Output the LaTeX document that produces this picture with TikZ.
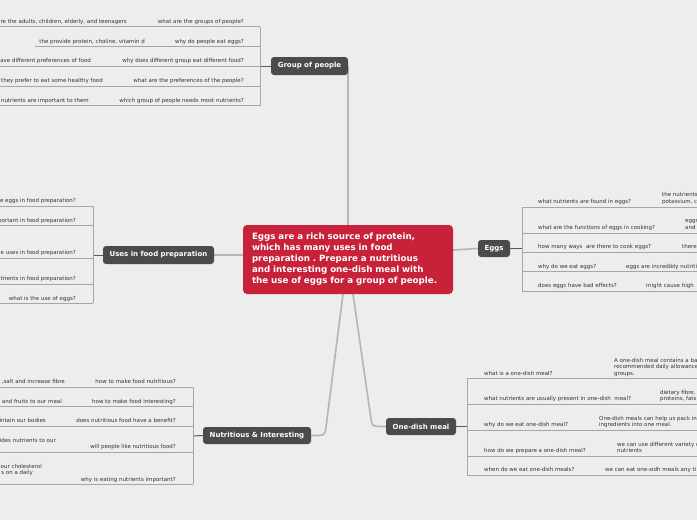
\documentclass[tikz,border=0pt]{standalone}
\usepackage{fontspec}
\setmainfont{DejaVu Sans}
\frenchspacing
\pgfdeclarelayer{back}
\pgfdeclarelayer{bg}
\pgfsetlayers{back,bg,main}
\definecolor{bgc}{HTML}{EDEDED}
\definecolor{topicred}{HTML}{C8213A}
\definecolor{topicgray}{HTML}{4B4B4B}
\definecolor{txt}{HTML}{333333}
\definecolor{rowline}{HTML}{A6A6A6}
\definecolor{mainline}{HTML}{B5B5B5}
\definecolor{linkline}{HTML}{5A5A5A}
\tikzset{
  topic/.style={fill=topicgray, rounded corners=3pt, text=white,
    font=\fontsize{7}{8}\selectfont\bfseries, inner sep=0pt},
  qe/.style={font=\fontsize{5.5}{6.6}\selectfont, text=txt, inner sep=0pt, anchor=base east},
  qw/.style={font=\fontsize{5.5}{6.6}\selectfont, text=txt, inner sep=0pt, anchor=base west},
  rowln/.style={draw=rowline, line width=0.8pt},
  mainln/.style={draw=mainline, line width=1.6pt},
  linkln/.style={draw=linkline, line width=1pt}
}
\begin{document}
\begin{tikzpicture}[x=1pt,y=-1pt]
\begin{pgfonlayer}{back}
\fill[bgc] (0,0) rectangle (697,520);
\end{pgfonlayer}
\useasboundingbox (0,0) rectangle (697,520);
\clip (0,0) rectangle (697,520);

% ---------- main topics ----------
\node[fill=topicred, rounded corners=4pt, text=white,
  font=\fontsize{8.7}{11}\selectfont\bfseries, align=left,
  text width=192pt, inner xsep=9pt, inner ysep=0pt, minimum height=69pt]
  (ctr) at (348,259.5) {Eggs are a rich source of protein,\\ which has many uses in food\\ preparation . Prepare a nutritious\\ and interesting one-dish meal with\\ the use of eggs for a group of people.};

\node[topic, minimum width=77pt, minimum height=18pt] (grp) at (309.5,66) {Group of people};
\node[topic, minimum width=111pt, minimum height=18pt] (uses) at (158.5,255) {Uses in food preparation};
\node[topic, minimum width=32pt, minimum height=17pt] (eggs) at (494,248.5) {Eggs};
\node[topic, minimum width=108pt, minimum height=17pt] (nut) at (257,435.5) {Nutritious \& Interesting};
\node[topic, minimum width=70pt, minimum height=17pt] (one) at (421,426.5) {One-dish meal};

% ---------- main connectors ----------
\coordinate (cU) at (243,255);
\coordinate (cE) at (453,250);
\coordinate (cN) at (343,294);
\coordinate (cO) at (353,294);
\coordinate (nBend) at (326,427);
\coordinate (oBend) at (371,419);
\begin{pgfonlayer}{bg}
\draw[mainln] (grp.east |- ctr.north) -- (grp.east);
\draw[mainln] (cU) -- (uses.east);
\draw[mainln] (cE) -- (eggs.west);
\draw[mainln] (cN) -- (nBend) .. controls (325,435.5) .. (nut.east);
\draw[mainln] (cO) -- (oBend) .. controls (372,426.5) .. (one.west);
\end{pgfonlayer}

% ---------- Group of people ----------
\coordinate (gB) at (260,66);
\draw[linkln] (grp.west) -- (gB);
\draw[rowln] (260,26.5) -- (260,105.5);
\draw[rowln] (0,26.5) -- (260,26.5);
\draw[rowln] (35,46) -- (260,46);
\draw[rowln] (0,66) -- (260,66);
\draw[rowln] (0,86) -- (260,86);
\draw[rowln] (0,105.5) -- (260,105.5);
\node[qe] (g1q) at (244,23) {what are the groups of people?};
\node[qe] (g1a) at (127,23) {re the adults, children, elderly, and teenagers};
\node[qe] (g2q) at (244,43.5) {why do people eat eggs?};
\node[qe] (g2a) at (145,43.5) {the provide protein, choline, vitamin d};
\node[qe] (g3q) at (244,62.5) {why does different group eat different food?};
\node[qe] (g3a) at (91,62.5) {ave different preferences of food};
\node[qe] (g4q) at (244,82.5) {what are the preferences of the people?};
\node[qe] (g4a) at (103,82.5) {they prefer to eat some healthy food};
\node[qe] (g5q) at (244,102) {which group of people needs most nutrients?};
\node[qe] (g5a) at (89,102) {nutrients are important to them};

% ---------- Uses in food preparation ----------
\coordinate (uB) at (93,255);
\draw[linkln] (uses.west) -- (uB);
\draw[rowln] (93,206) -- (93,303);
\draw[rowln] (0,206) -- (93,206);
\draw[rowln] (0,225) -- (93,225);
\draw[rowln] (0,258) -- (93,258);
\draw[rowln] (0,284) -- (93,284);
\draw[rowln] (0,303) -- (93,303);
\node[qe] (u1) at (76,202) {e eggs in food preparation?};
\node[qe] (u2) at (76,222) {portant in food preparation?};
\node[qe] (u3) at (76,254) {e uses in food preparation?};
\node[qe] (u4) at (76,280) {trients in food preparation?};
\node[qe] (u5) at (76,300) {what is the use of eggs?};

% ---------- Nutritious & Interesting ----------
\coordinate (nB) at (193,436);
\draw[linkln] (nut.west) -- (nB);
\draw[rowln] (193,387) -- (193,484);
\draw[rowln] (0,387) -- (193,387);
\draw[rowln] (0,406) -- (193,406);
\draw[rowln] (0,426) -- (193,426);
\draw[rowln] (0,452) -- (193,452);
\draw[rowln] (0,484) -- (193,484);
\node[qe] (n1q) at (176,383) {how to make food nutritious?};
\node[qe] (n1a) at (65,383) {,salt and increase fibre};
\node[qe] (n2q) at (176,403) {how to make food interesting?};
\node[qe] (n2a) at (62,403) {and fruits to our meal};
\node[qe] (n3q) at (176,422) {does nutritious food have a benefit?};
\node[qe] (n3a) at (46,422) {intain our bodies};
\node[qe] (n4q) at (176,448) {will people like nutritious food?};
\node[qe] (n4a) at (56,442) {ides nutrients to our};
\node[qe] (n5q) at (176,481) {why is eating nutrients important?};
\node[qe] (n5a) at (42,468) {our cholesterol};
\node[qe] (n5b) at (33,474) {s on a daily};

% ---------- Eggs ----------
\coordinate (eB) at (522,248.5);
\draw[linkln] (eggs.east) -- (eB);
\draw[rowln] (522,207) -- (522,291);
\draw[rowln] (522,207) -- (697,207);
\draw[rowln] (522,233) -- (697,233);
\draw[rowln] (522,252) -- (697,252);
\draw[rowln] (522,271) -- (697,271);
\draw[rowln] (522,291) -- (697,291);
\node[qw] (e1q) at (538,203) {what nutrients are found in eggs?};
\node[qw] (e1a) at (662,196.5) {the nutrients};
\node[qw] (e1b) at (662,203) {potassium, c};
\node[qw] (e2q) at (538,229) {what are the functions of eggs in cooking?};
\node[qw] (e2a) at (685,222) {eggs};
\node[qw] (e2b) at (685,229) {and};
\node[qw] (e3q) at (538,248) {how many ways\ \ are there to cook eggs?};
\node[qw] (e3a) at (682,248) {there};
\node[qw] (e4q) at (538,268) {why do we eat eggs?};
\node[qw] (e4a) at (626,268) {eggs are incredibly nutriti};
\node[qw] (e5q) at (538,287) {does eggs have bad effects?};
\node[qw] (e5a) at (646,287) {might cause high};

% ---------- One-dish meal ----------
\coordinate (oB) at (467,426.5);
\draw[linkln] (one.east) -- (oB);
\draw[rowln] (467,378) -- (467,475);
\draw[rowln] (467,378) -- (697,378);
\draw[rowln] (467,404) -- (697,404);
\draw[rowln] (467,430) -- (697,430);
\draw[rowln] (467,456) -- (697,456);
\draw[rowln] (467,475) -- (697,475);
\node[qw] (o1q) at (484,375) {what is a one-dish meal?};
\node[qw] (o1a) at (614,362) {A one-dish meal contains a ba};
\node[qw] (o1b) at (614,368.5) {recommended daily allowance};
\node[qw] (o1c) at (614,375) {groups.};
\node[qw] (o2q) at (484,400) {what nutrients are usually present in one-dish\ \ meal?};
\node[qw] (o2a) at (660,394) {dietary fibre,};
\node[qw] (o2b) at (660,400) {proteins, fats};
\node[qw] (o3q) at (484,426) {why do we eat one-dish meal?};
\node[qw] (o3a) at (599,420) {One-dish meals can help us pack in};
\node[qw] (o3b) at (599,426) {ingredients into one meal.};
\node[qw] (o4q) at (484,452) {how do we prepare a one-dish meal?};
\node[qw] (o4a) at (617,446) {we can use different variety o};
\node[qw] (o4b) at (617,452) {nutrients};
\node[qw] (o5q) at (484,471) {when do we eat one-dish meals?};
\node[qw] (o5a) at (605,471) {we can eat one-sidh meals any ti};
\end{tikzpicture}
\end{document}
